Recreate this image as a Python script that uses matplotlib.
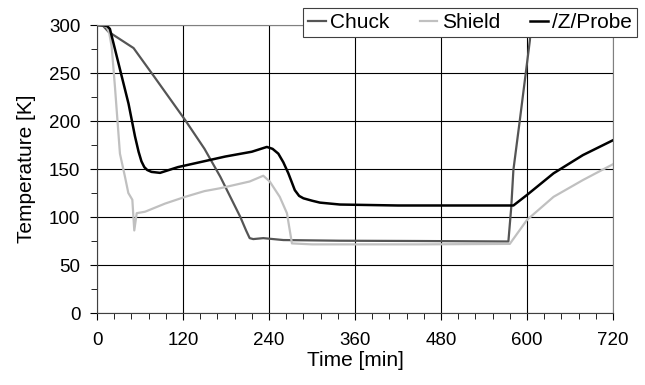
import matplotlib.pyplot as plt
import numpy as np

plt.rcParams['font.family'] = ['Liberation Sans', 'DejaVu Sans']

# values (time in min, temperature in K)
chuck_t = [0, 8, 16, 51, 80, 123, 150, 172, 200, 208, 213, 218, 232, 260, 339, 450, 574,
           578, 581, 590, 604, 606]
chuck_T = [300, 299.5, 293, 276, 246, 201, 171, 142, 100, 86, 78, 77, 78, 76, 75.3, 75, 74.5,
           110, 149, 201, 284, 305]

shield_t = [0, 8, 13.5, 17, 20.5, 25, 32, 39, 43.7, 49.3, 52, 55.4, 67, 95, 123, 150, 172,
            213, 232, 241, 255, 265, 272, 300, 450, 576, 600, 637, 678, 720]
shield_T = [300, 299.5, 298, 292, 277, 236, 166, 142, 125, 118, 86, 104, 105.5, 114, 121, 127,
            130, 137, 143, 137, 121, 104, 72.5, 71.5, 71.5, 72, 97, 121, 138.5, 155]

probe_t = [0, 10, 14, 18, 30, 44, 53, 58, 62, 66, 70, 76, 88, 113, 155, 179, 216, 237, 245,
           253, 260, 267, 276, 282, 288, 300, 311, 339, 420, 510, 562, 581, 600, 637, 678, 720]
probe_T = [300, 299.5, 299, 296, 260, 218, 184, 168, 158, 152, 149, 147, 146, 152, 159, 163,
           168, 173, 171, 166, 157, 145.5, 128, 122, 119.5, 117, 115, 113, 112, 112, 112, 112,
           123, 145.5, 164.5, 180]

x_ticks = [0, 120, 240, 360, 480, 600, 720]
y_ticks = [0, 50, 100, 150, 200, 250, 300]

fig = plt.figure(figsize=(6.45, 3.85), dpi=100)
ax = fig.add_axes([0.1504, 0.187, 0.80, 0.748])

ax.plot(chuck_t, chuck_T, color='#555555', lw=1.6, label='Chuck')
ax.plot(shield_t, shield_T, color='#c0c0c0', lw=1.6, label='Shield')
ax.plot(probe_t, probe_T, color='black', lw=1.8, label='/Z/Probe')

ax.set_xlim(0, 720)
ax.set_ylim(0, 300)
ax.set_xticks(x_ticks)
ax.set_yticks(y_ticks)
ax.set_xticks(np.arange(0, 721, 24), minor=True)
ax.set_yticks(np.arange(0, 301, 25), minor=True)
ax.tick_params(axis='both', which='both', direction='out', labelsize=13.5, colors='black')
ax.tick_params(axis='both', which='major', length=5)
ax.tick_params(axis='both', which='minor', length=4)
ax.tick_params(axis='x', which='major', pad=9)
ax.tick_params(axis='y', which='major', pad=7)
ax.grid(True, which='major', color='black', lw=0.8)

for side in ['top', 'right']:
    ax.spines[side].set_color('#808080')
for side in ['left', 'bottom']:
    ax.spines[side].set_color('#404040')

ax.set_xlabel('Time [min]', fontsize=15, labelpad=1)
ax.set_ylabel('Temperature [K]', fontsize=15, labelpad=9)

leg = ax.legend(loc='upper right', ncol=3, fontsize=15, frameon=True, fancybox=False,
                bbox_to_anchor=(1.0465, 1.059), handlelength=0.85, handletextpad=0.2,
                columnspacing=1.45, borderpad=0.25, borderaxespad=0)
leg.get_frame().set_edgecolor('#404040')
leg.get_frame().set_linewidth(0.8)
leg.get_frame().set_alpha(1)

plt.savefig('out.png', dpi=100)
